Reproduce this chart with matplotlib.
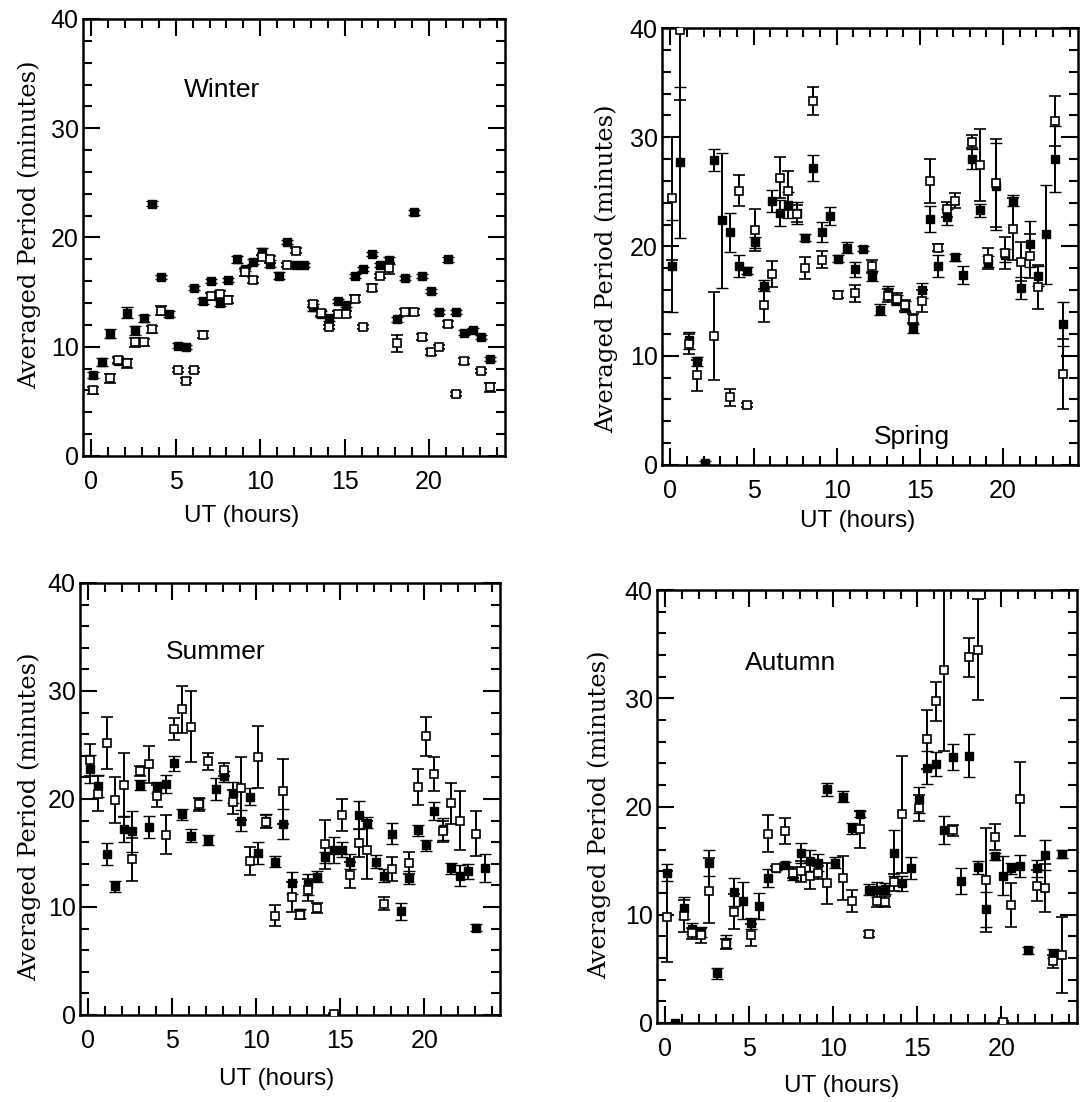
import numpy as np
import matplotlib
matplotlib.use("Agg")
import matplotlib.pyplot as plt
from matplotlib.ticker import MultipleLocator
from matplotlib.font_manager import FontProperties

nan = np.nan

# Half-hour UT bins
hours = [0.1, 0.6, 1.1, 1.6, 2.1, 2.6, 3.1, 3.6, 4.1, 4.6,
         5.1, 5.6, 6.1, 6.6, 7.1, 7.6, 8.1, 8.6, 9.1, 9.6,
         10.1, 10.6, 11.1, 11.6, 12.1, 12.6, 13.1, 13.6, 14.1, 14.6,
         15.1, 15.6, 16.1, 16.6, 17.1, 17.6, 18.1, 18.6, 19.1, 19.6,
         20.1, 20.6, 21.1, 21.6, 22.1, 22.6, 23.1, 23.6]

# ---- Winter ----
winter_filled = [7.4, 8.6, 11.2, 8.7, 13.1, 11.5, 12.6, 23.1, 16.4, 13.0,
                 10.1, 10.0, 15.4, 14.2, 16.0, 14.0, 16.1, 18.0, 17.1, 17.8,
                 18.7, 17.6, 16.5, 19.6, 17.5, 17.5, 13.6, 13.0, 12.6, 14.2,
                 13.8, 16.5, 17.1, 18.5, 17.5, 17.9, 12.5, 16.3, 22.3, 16.5,
                 15.1, 13.2, 18.0, 13.2, 11.3, 11.5, 10.9, 8.9]
winter_filled_err = [0.3, 0.4, 0.4, 0.3, 0.5, 0.4, 0.3, 0.2, 0.2, 0.3,
                     0.2, 0.2, 0.2, 0.3, 0.2, 0.3, 0.2, 0.3, 0.2, 0.2,
                     0.3, 0.3, 0.3, 0.2, 0.2, 0.2, 0.3, 0.3, 0.2, 0.2,
                     0.2, 0.2, 0.2, 0.2, 0.2, 0.3, 0.2, 0.2, 0.2, 0.2,
                     0.2, 0.2, 0.2, 0.2, 0.2, 0.2, 0.2, 0.2]
winter_open = [6.0, nan, 7.1, 8.8, 8.5, 10.4, 10.4, 11.6, 13.3, nan,
               7.9, 6.9, 7.9, 11.1, 14.6, 14.8, 14.3, nan, 16.8, 16.1,
               18.2, 18.0, nan, 17.5, 18.8, nan, 13.9, 13.1, 11.8, 13.0,
               13.0, 14.4, 11.8, 15.4, 16.5, 17.2, 10.3, 13.2, 13.2, 10.9,
               9.5, 10.0, 12.1, 5.7, 8.7, nan, 7.8, 6.3]
winter_open_err = [0.3, 0, 0.4, 0.3, 0.4, 0.4, 0.3, 0.3, 0.4, 0,
                   0.2, 0.2, 0.2, 0.3, 0.3, 0.3, 0.3, 0, 0.3, 0.3,
                   0.2, 0.3, 0, 0.2, 0.2, 0, 0.3, 0.3, 0.2, 0.3,
                   0.3, 0.3, 0.2, 0.3, 0.2, 0.5, 0.8, 0.3, 0.3, 0.3,
                   0.3, 0.2, 0.3, 0.2, 0.3, 0, 0.2, 0.4]

# ---- Spring ----
spring_filled = [18.2, 27.7, 11.4, 9.5, 0.2, 27.9, 22.4, 21.3, 18.2, 17.8,
                 20.4, 16.4, 24.2, 23.1, 23.8, 23.1, 20.8, 27.2, 21.3, 22.8,
                 18.9, 19.9, 17.9, 19.8, 17.3, 14.2, 15.8, 15.1, 14.5, 12.5,
                 16.0, 22.5, 18.2, 22.7, 19.0, 17.4, 28.0, 23.3, 18.6, 25.5,
                 19.2, 24.2, 16.2, 20.2, 17.3, 21.1, 28.0, 12.9]
spring_filled_err = [4.2, 6.9, 0.8, 0.4, 0.2, 1.0, 6.2, 1.8, 1.0, 0.3,
                     0.5, 0.5, 1.0, 1.2, 1.2, 1.0, 0.3, 1.2, 0.9, 0.8,
                     0.3, 0.5, 0.7, 0.2, 0.5, 0.5, 0.6, 0.5, 0.5, 0.4,
                     0.7, 1.2, 1.0, 0.7, 0.3, 0.8, 0.9, 0.6, 0.5, 4.0,
                     0.6, 0.5, 1.0, 2.1, 0.9, 4.5, 3.0, 2.0]
spring_open = [24.4, 39.8, 11.1, 8.2, nan, 11.8, nan, 6.2, 25.1, 5.5,
               21.5, 14.6, 17.5, 26.3, 25.1, 23.0, 18.0, 33.3, 18.8, nan,
               15.6, nan, 15.7, nan, 18.2, nan, 15.5, 15.2, 14.6, 13.4,
               15.0, 26.0, 19.9, 23.4, 24.2, nan, 29.6, 27.5, 18.9, 25.8,
               19.4, 21.6, 18.6, 19.1, 16.3, nan, 31.5, 8.3]
spring_open_err = [5.6, 6.4, 0.9, 1.4, 0, 4.0, 0, 0.8, 1.4, 0.2,
                   1.9, 1.5, 1.2, 1.9, 1.8, 0.8, 1.0, 1.3, 0.8, 0,
                   0.3, 0, 0.8, 0, 0.6, 0, 0.6, 0.5, 0.5, 0.4,
                   1.0, 2.0, 0.3, 0.7, 0.7, 0, 0.6, 3.3, 1.0, 4.0,
                   1.5, 2.8, 1.8, 2.0, 2.0, 0, 2.3, 3.2]

# ---- Summer ----
summer_filled = [22.8, 21.2, 14.9, 11.9, 17.2, 17.0, 21.3, 17.4, 21.1, 21.4,
                 23.3, 18.6, 16.6, 19.6, 16.2, 20.9, 22.1, 20.6, 18.0, 20.2,
                 15.0, 18.0, 14.2, 17.7, 12.2, 9.4, 12.1, 12.8, 14.6, 15.3,
                 15.3, 14.2, 18.5, 17.8, 14.2, 12.9, 16.8, 9.6, 12.7, 17.1,
                 15.7, 18.9, 17.2, 13.6, 12.9, 13.3, 8.1, 13.6]
summer_filled_err = [1.3, 1.0, 1.0, 0.5, 1.2, 1.9, 0.5, 1.0, 0.5, 0.8,
                     0.7, 0.5, 0.6, 0.5, 0.5, 1.0, 0.5, 1.0, 1.0, 0.8,
                     1.0, 0.6, 0.5, 1.4, 1.0, 0.4, 1.0, 0.5, 0.5, 1.2,
                     0.7, 0.7, 1.3, 0.5, 0.6, 0.6, 1.0, 0.8, 0.6, 0.5,
                     0.5, 0.8, 1.0, 0.5, 1.0, 0.7, 0.3, 1.3]
summer_open = [23.6, 20.5, 25.2, 19.9, 21.3, 14.4, 22.6, 23.2, 20.3, 16.7,
               26.5, 28.3, 26.7, 19.5, 23.5, nan, 22.7, 19.7, 21.0, 14.3,
               23.9, 17.9, 9.2, 20.7, 10.9, 9.3, 11.6, 9.9, 15.8, 0.1,
               18.5, 13.0, 15.9, 15.3, nan, 10.3, 13.5, nan, 14.1, 21.1,
               25.8, 22.3, 17.0, 19.6, 18.0, nan, 16.8, nan]
summer_open_err = [1.5, 1.6, 2.4, 2.1, 3.0, 2.0, 0.5, 1.7, 1.0, 1.8,
                   1.0, 2.2, 3.3, 0.6, 0.8, 0, 0.6, 1.1, 2.9, 1.3,
                   2.9, 0.6, 1.0, 3.0, 1.4, 0.4, 1.0, 0.5, 2.3, 0.1,
                   1.5, 1.2, 1.3, 2.7, 0, 0.6, 1.1, 0, 1.0, 1.7,
                   1.8, 1.6, 1.0, 1.9, 2.7, 0, 2.1, 0]

# ---- Autumn ----
autumn_filled = [13.9, 0.0, 10.6, 8.7, 8.4, 14.8, 4.6, 7.5, 12.1, 11.3,
                 9.2, 10.8, 13.4, 14.3, 14.6, 13.7, 15.7, 15.0, 14.8, 21.6,
                 14.8, 20.9, 18.0, 19.3, 12.3, 12.3, 12.4, 15.7, 12.9, 14.3,
                 20.6, 23.6, 23.9, 17.8, 24.6, 13.1, 24.7, 14.4, 10.5, 15.4,
                 13.6, 14.3, 14.5, 6.7, 14.3, 15.5, 6.4, 15.6]
autumn_filled_err = [0.8, 0, 1.0, 0.5, 0.5, 1.2, 0.5, 0.6, 1.3, 1.7,
                     0.5, 1.2, 0.8, 0.2, 0.3, 0.5, 0.9, 1.0, 0.8, 0.6,
                     0.5, 0.5, 0.5, 0.3, 0.5, 0.7, 0.5, 2.1, 0.7, 1.0,
                     1.2, 1.5, 1.1, 1.3, 1.2, 1.2, 2.0, 0.6, 1.6, 0.3,
                     1.8, 0.5, 1.0, 0.3, 0.8, 1.4, 0.4, 0.4]
autumn_open = [9.8, nan, 9.9, 8.3, 8.1, 12.2, nan, 7.3, 10.3, nan,
               8.1, nan, 17.5, 14.3, 17.7, 13.9, 14.0, 13.6, 13.9, 12.9,
               nan, 13.4, 11.3, 17.9, 8.2, 11.3, 11.2, 13.0, 19.3, nan,
               19.9, 26.2, 29.7, 32.6, 17.8, nan, 33.8, 34.5, 13.2, 17.2,
               0.1, 10.9, 20.7, nan, 12.7, 12.5, 5.7, 6.3]
autumn_open_err = [4.2, 0, 1.5, 0.5, 0.7, 3.0, 0, 0.5, 1.6, 0,
                   1.0, 0, 1.7, 0.2, 1.2, 0.5, 1.0, 1.2, 0.6, 1.9,
                   0, 2.0, 1.0, 1.7, 0.3, 0.6, 0.5, 0.8, 5.4, 0,
                   1.2, 2.7, 1.8, 7.5, 0.5, 0, 1.8, 4.7, 4.8, 1.2,
                   0.1, 2.0, 3.4, 0, 1.4, 2.2, 0.6, 3.5]

SANS = "Liberation Sans"
serif_label = FontProperties(family="DejaVu Serif", size=17.5)

fig = plt.figure(figsize=(10.84, 11.02), dpi=100)
W, H = 1084.0, 1102.0


def rect(left, top, right, bottom):
    return [left / W, 1 - bottom / H, (right - left) / W, (bottom - top) / H]


panels = [
    dict(name="Winter", rect=rect(83, 19, 505, 456),
         filled=winter_filled, ferr=winter_filled_err,
         open_=winter_open, oerr=winter_open_err,
         title_xy=(0.329, 0.838), xlab=(0.377, -0.112), ylab=(-0.10, 0.53)),
    dict(name="Spring", rect=rect(662, 28, 1078, 465),
         filled=spring_filled, ferr=spring_filled_err,
         open_=spring_open, oerr=spring_open_err,
         title_xy=(0.60, 0.064), xlab=(0.47, -0.103), ylab=(-0.105, 0.45)),
    dict(name="Summer", rect=rect(80, 583, 500, 1015),
         filled=summer_filled, ferr=summer_filled_err,
         open_=summer_open, oerr=summer_open_err,
         title_xy=(0.324, 0.84), xlab=(0.467, -0.123), ylab=(-0.093, 0.46)),
    dict(name="Autumn", rect=rect(657, 590, 1077, 1023),
         filled=autumn_filled, ferr=autumn_filled_err,
         open_=autumn_open, oerr=autumn_open_err,
         title_xy=(0.317, 0.831), xlab=(0.44, -0.12), ylab=(-0.11, 0.48)),
]

for p in panels:
    ax = fig.add_axes(p["rect"])
    common = dict(fmt="s", ms=5.5, elinewidth=1.4, capsize=4.5, capthick=1.4,
                  ecolor="black", zorder=3)
    ax.errorbar(hours, p["filled"], yerr=p["ferr"], mfc="black", mec="black",
                mew=1.0, **common)
    ax.errorbar(hours, p["open_"], yerr=p["oerr"], mfc="white", mec="black",
                mew=1.2, **common)

    ax.set_xlim(-0.5, 24.5)
    ax.set_ylim(0, 40)
    ax.xaxis.set_major_locator(MultipleLocator(5))
    ax.xaxis.set_minor_locator(MultipleLocator(1))
    ax.yaxis.set_major_locator(MultipleLocator(10))
    ax.yaxis.set_minor_locator(MultipleLocator(2))
    ax.set_xticks([0, 5, 10, 15, 20])
    ax.tick_params(which="both", direction="in", top=True, right=True,
                   width=1.5, labelsize=18)
    ax.tick_params(which="major", length=12)
    ax.tick_params(which="minor", length=6.5)
    ax.tick_params(axis="x", which="major", pad=10)
    ax.tick_params(axis="y", which="major", pad=3)
    for lab in ax.get_xticklabels() + ax.get_yticklabels():
        lab.set_fontfamily(SANS)
    for s in ax.spines.values():
        s.set_linewidth(1.8)

    ax.set_xlabel("UT (hours)", fontsize=17.5, family=SANS)
    ax.xaxis.set_label_coords(*p["xlab"])
    ax.set_ylabel("Averaged Period (minutes)", fontproperties=serif_label)
    ax.yaxis.set_label_coords(*p["ylab"])

    ax.text(p["title_xy"][0], p["title_xy"][1], p["name"], transform=ax.transAxes,
            ha="center", va="center", fontsize=19, family=SANS)

fig.savefig("out.png", dpi=100)
